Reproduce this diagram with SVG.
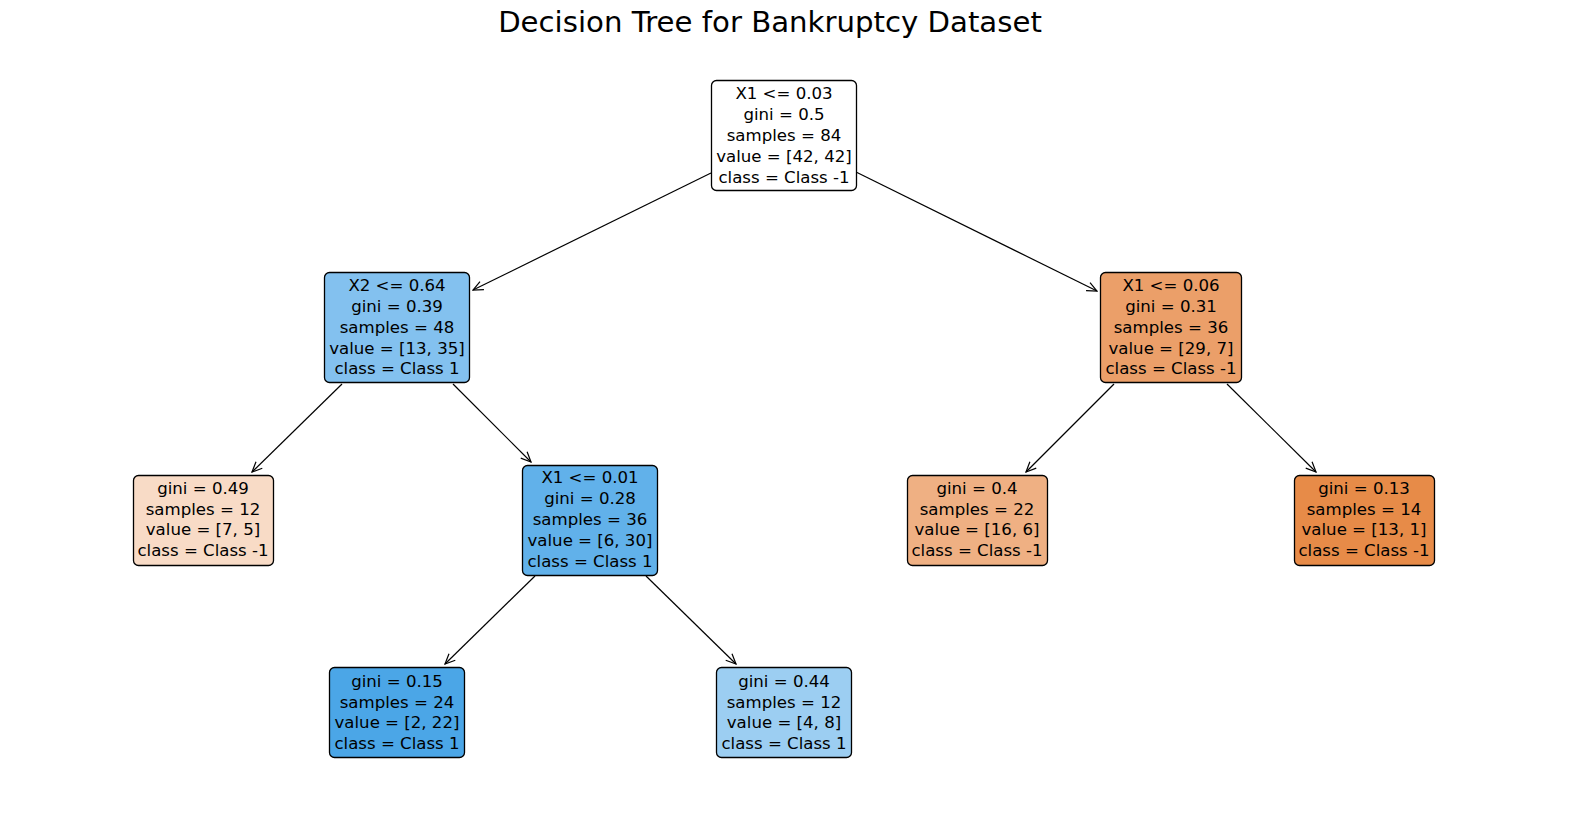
<svg xmlns="http://www.w3.org/2000/svg" width="1570" height="820" viewBox="0 0 1570 820">
<style>
text{font-family:"DejaVu Sans",sans-serif;fill:#000}
.t{font-size:16.6px;text-anchor:middle}
.title{font-size:29.2px;text-anchor:middle}
.box{stroke:#000;stroke-width:1.3}
.edge{stroke:#000;stroke-width:1.2;fill:none}
</style>
<defs>
<marker id="arr" viewBox="0 0 12 12" refX="11" refY="6" markerWidth="12" markerHeight="12" markerUnits="userSpaceOnUse" orient="auto">
<path d="M1,1.5 L11,6 L1,10.5" fill="none" stroke="#000" stroke-width="1.2"/>
</marker>
</defs>
<rect width="1570" height="820" fill="#fff"/>
<text class="title" x="770" y="32">Decision Tree for Bankruptcy Dataset</text>
<g id="edges">
<line class="edge" x1="711" y1="173" x2="473" y2="290" marker-end="url(#arr)"/>
<line class="edge" x1="856" y1="172" x2="1097" y2="291" marker-end="url(#arr)"/>
<line class="edge" x1="342" y1="384" x2="252" y2="472" marker-end="url(#arr)"/>
<line class="edge" x1="453" y1="384" x2="531" y2="462" marker-end="url(#arr)"/>
<line class="edge" x1="1114" y1="384" x2="1026" y2="472" marker-end="url(#arr)"/>
<line class="edge" x1="1227" y1="384" x2="1316" y2="472" marker-end="url(#arr)"/>
<line class="edge" x1="535" y1="576" x2="445" y2="664" marker-end="url(#arr)"/>
<line class="edge" x1="646" y1="576" x2="736" y2="664" marker-end="url(#arr)"/>
</g>
<g id="n0">
<rect class="box" x="711.5" y="80.5" width="145" height="110" rx="5" fill="#ffffff"/>
<text class="t" x="784" y="99">X1 &lt;= 0.03</text>
<text class="t" x="784" y="120">gini = 0.5</text>
<text class="t" x="784" y="141">samples = 84</text>
<text class="t" x="784" y="162">value = [42, 42]</text>
<text class="t" x="784" y="183">class = Class -1</text>
</g>
<g id="n1">
<rect class="box" x="324.5" y="272.5" width="145" height="110" rx="5" fill="#83c1ef"/>
<text class="t" x="397" y="291">X2 &lt;= 0.64</text>
<text class="t" x="397" y="312">gini = 0.39</text>
<text class="t" x="397" y="333">samples = 48</text>
<text class="t" x="397" y="354">value = [13, 35]</text>
<text class="t" x="397" y="374">class = Class 1</text>
</g>
<g id="n2">
<rect class="box" x="133.5" y="475.5" width="140" height="90" rx="5" fill="#f8dbc6"/>
<text class="t" x="203" y="494">gini = 0.49</text>
<text class="t" x="203" y="515">samples = 12</text>
<text class="t" x="203" y="535">value = [7, 5]</text>
<text class="t" x="203" y="556">class = Class -1</text>
</g>
<g id="n3">
<rect class="box" x="522.5" y="465.5" width="135" height="110" rx="5" fill="#61b1ea"/>
<text class="t" x="590" y="483">X1 &lt;= 0.01</text>
<text class="t" x="590" y="504">gini = 0.28</text>
<text class="t" x="590" y="525">samples = 36</text>
<text class="t" x="590" y="546">value = [6, 30]</text>
<text class="t" x="590" y="567">class = Class 1</text>
</g>
<g id="n4">
<rect class="box" x="329.5" y="667.5" width="135" height="90" rx="5" fill="#4ba6e7"/>
<text class="t" x="397" y="687">gini = 0.15</text>
<text class="t" x="397" y="708">samples = 24</text>
<text class="t" x="397" y="728">value = [2, 22]</text>
<text class="t" x="397" y="749">class = Class 1</text>
</g>
<g id="n5">
<rect class="box" x="716.5" y="667.5" width="135" height="90" rx="5" fill="#9ccef2"/>
<text class="t" x="784" y="687">gini = 0.44</text>
<text class="t" x="784" y="708">samples = 12</text>
<text class="t" x="784" y="728">value = [4, 8]</text>
<text class="t" x="784" y="749">class = Class 1</text>
</g>
<g id="n6">
<rect class="box" x="1100.5" y="272.5" width="141" height="110" rx="5" fill="#eb9f69"/>
<text class="t" x="1171" y="291">X1 &lt;= 0.06</text>
<text class="t" x="1171" y="312">gini = 0.31</text>
<text class="t" x="1171" y="333">samples = 36</text>
<text class="t" x="1171" y="354">value = [29, 7]</text>
<text class="t" x="1171" y="374">class = Class -1</text>
</g>
<g id="n7">
<rect class="box" x="907.5" y="475.5" width="140" height="90" rx="5" fill="#efb083"/>
<text class="t" x="977" y="494">gini = 0.4</text>
<text class="t" x="977" y="515">samples = 22</text>
<text class="t" x="977" y="535">value = [16, 6]</text>
<text class="t" x="977" y="556">class = Class -1</text>
</g>
<g id="n8">
<rect class="box" x="1294.5" y="475.5" width="140" height="90" rx="5" fill="#e78b48"/>
<text class="t" x="1364" y="494">gini = 0.13</text>
<text class="t" x="1364" y="515">samples = 14</text>
<text class="t" x="1364" y="535">value = [13, 1]</text>
<text class="t" x="1364" y="556">class = Class -1</text>
</g>
</svg>
